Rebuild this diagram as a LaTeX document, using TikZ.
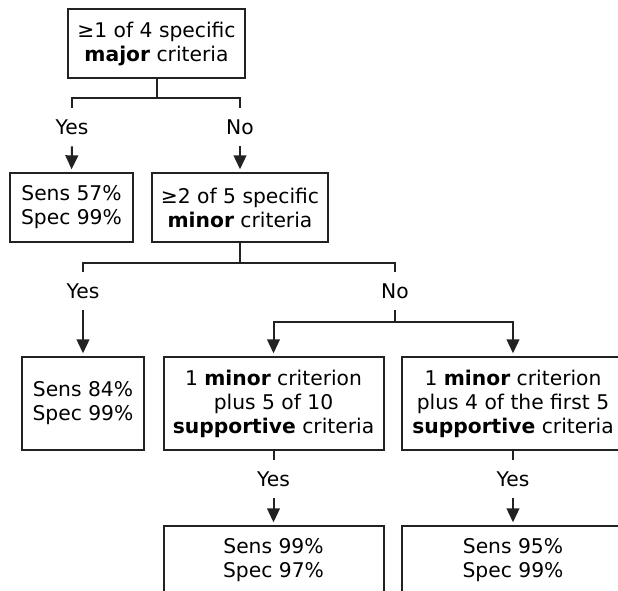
\documentclass[tikz,border=0pt]{standalone}
\usepackage{fontspec}
\setmainfont{DejaVu Sans}
\usetikzlibrary{arrows.meta}
\definecolor{ink}{HTML}{222222}

\begin{document}
\begin{tikzpicture}[
  x=0.75pt, y=-0.75pt,
  box/.style={draw=ink, line width=1.5pt, align=center, inner sep=0pt, minimum height=51.75pt, font=\fontsize{15.2}{18}\selectfont},
  tall/.style={box, minimum height=69.75pt},
  lab/.style={inner sep=0pt, minimum height=28.5pt, font=\fontsize{15.2}{18}\selectfont},
  link/.style={draw=ink, line width=1.5pt},
  arr/.style={link, -{Triangle[length=10.5pt,width=9.5pt]}, shorten >=2pt}
]
\useasboundingbox (0,0) rectangle (618,590);
\clip (0,0) rectangle (618,590);

% first question
\node[box, minimum width=132.75pt] (major) at (156.5,43.5) {≥1 of 4 specific\\\textbf{major} criteria};
\node[lab] (yes1) at (72,127) {Yes};
\node[lab] (no1) at (240,127) {No};
\node[box, minimum width=92.25pt] (res1) at (71.5,207.5) {Sens 57\%\\Spec 99\%};
\node[box, minimum width=132pt] (minor) at (240,207.5) {≥2 of 5 specific\\\textbf{minor} criteria};

% second question
\node[lab] (yes2) at (83,291) {Yes};
\node[lab] (no2) at (395,291) {No};
\node[tall, minimum width=91.5pt] (res2) at (83,403.5) {Sens 84\%\\Spec 99\%};
\node[tall, minimum width=165pt] (supA) at (273.5,403.5) {1 \textbf{minor} criterion\\plus 5 of 10\\\textbf{supportive} criteria};
\node[tall, minimum width=166.5pt] (supB) at (513,403.5) {1 \textbf{minor} criterion\\plus 4 of the first 5\\\textbf{supportive} criteria};

% last step
\node[lab] (yes3) at (273.5,479) {Yes};
\node[lab] (yes4) at (513,479) {Yes};
\node[box, minimum width=165pt] (res3) at (273.5,560.5) {Sens 99\%\\Spec 97\%};
\node[box, minimum width=166.5pt] (res4) at (513,560.5) {Sens 95\%\\Spec 99\%};

\draw[link] (major.south) -- ++(0,19) coordinate (s1);
\draw[link] (yes1.north) |- (s1) -| (no1.north);
\draw[arr] (yes1.south) -- (res1.north);
\draw[arr] (no1.south) -- (minor.north);

\draw[link] (minor.south) -- ++(0,20) coordinate (s2);
\draw[link] (yes2.north) |- (s2) -| (no2.north);
\draw[arr] (yes2.south) -- (res2.north);
\draw[link] (no2.south) -- ++(0,12) coordinate (s3);
\draw[arr] (s3) -| (supA.north);
\draw[arr] (s3) -| (supB.north);

\draw[link] (supA.south) -- (yes3.north);
\draw[link] (supB.south) -- (yes4.north);
\draw[arr] (yes3.south) -- (res3.north);
\draw[arr] (yes4.south) -- (res4.north);
\end{tikzpicture}
\end{document}
